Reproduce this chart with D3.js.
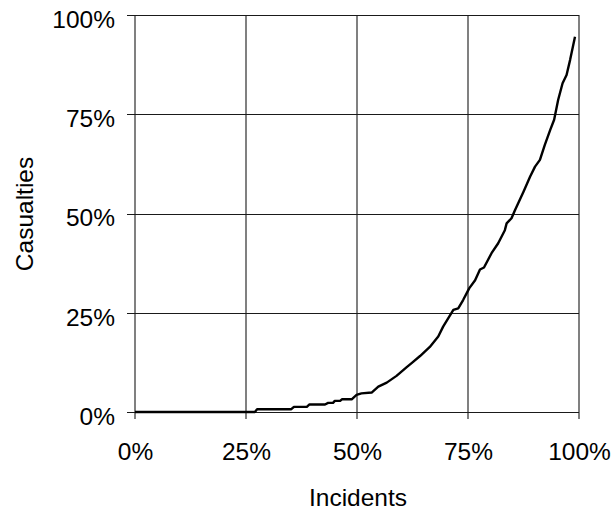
<!DOCTYPE html>
<html>
<head>
<meta charset="utf-8">
<script src="https://cdn.jsdelivr.net/npm/d3@7"></script>
<style>
  html, body { margin: 0; padding: 0; background: #fff; }
  svg { display: block; }
  text { font-family: "Liberation Sans", Arial, sans-serif; fill: #000; }
</style>
</head>
<body>
<svg id="chart" width="615" height="510"></svg>
<script>
// Cumulative share of incidents (%) vs cumulative share of casualties (%)
const incidents = [0, 27.0, 27.5, 35.2, 35.8, 38.7, 39.3, 42.8, 43.5, 44.6, 45.0, 46.2, 46.6, 48.8,
  49.9, 51.0, 53.3, 54.8, 56.7, 58.9, 61.2, 62.3, 64.2, 66.4, 68.3, 69.4, 71.7, 72.8, 73.9,
  75.3, 76.6, 77.7, 78.6, 80.3, 81.8, 83.3, 83.7, 84.8, 85.6, 87.5, 89.0, 90.1, 91.2, 92.3,
  93.5, 94.4, 95.3, 96.3, 97.2, 98.0, 99.1];
const casualties = [0, 0, 0.7, 0.7, 1.3, 1.3, 1.9, 1.9, 2.3, 2.3, 2.8, 2.8, 3.2, 3.2,
  4.3, 4.7, 4.9, 6.4, 7.4, 9.1, 11.3, 12.3, 14.1, 16.4, 19.0, 21.5, 25.7, 26.1, 28.2,
  31.2, 33.2, 35.9, 36.4, 40.0, 42.5, 45.8, 47.5, 48.8, 50.9, 55.5, 59.3, 61.8, 63.5, 67.3,
  71.0, 73.6, 78.6, 82.8, 84.9, 88.7, 94.5];
const xTicks = [0, 25, 50, 75, 100];
const yTicks = [0, 25, 50, 75, 100];
const xTitle = "Incidents";
const yTitle = "Casualties";

const svg = d3.select("#chart");
const x = d3.scaleLinear().domain([0, 100]).range([135, 579]);
const y = d3.scaleLinear().domain([0, 100]).range([412, 15]);
const fmt = d => d + "%";

// vertical gridlines (gray)
svg.append("g").selectAll("line").data(xTicks).join("line")
  .attr("x1", d => x(d)).attr("x2", d => x(d))
  .attr("y1", y(100)).attr("y2", y(0) + 7)
  .attr("stroke", "#808080").attr("stroke-width", 2);

// horizontal gridlines (dark)
svg.append("g").selectAll("line").data(yTicks).join("line")
  .attr("x1", x(0) - 8).attr("x2", x(100))
  .attr("y1", d => Math.round(y(d)) + 0.5).attr("y2", d => Math.round(y(d)) + 0.5)
  .attr("stroke", "#1a1a1a").attr("stroke-width", 1.2);

// x tick labels via axis
const xAxis = svg.append("g").attr("transform", `translate(0,${y(0)})`)
  .call(d3.axisBottom(x).tickValues(xTicks).tickFormat(fmt).tickSize(0));
xAxis.select(".domain").remove();
xAxis.selectAll("text")
  .attr("y", 48).attr("dy", null)
  .style("font-family", '"Liberation Sans", Arial, sans-serif')
  .style("font-size", "24.5px").attr("fill", "#000");

// y tick labels via axis
const yAxis = svg.append("g").attr("transform", `translate(${x(0)},0)`)
  .call(d3.axisLeft(y).tickValues(yTicks).tickFormat(fmt).tickSize(0));
yAxis.select(".domain").remove();
yAxis.selectAll("text")
  .attr("x", -20).attr("dy", "0.5em")
  .style("font-family", '"Liberation Sans", Arial, sans-serif')
  .style("font-size", "24.5px").attr("fill", "#000");

// line
const line = d3.line().x((d, i) => x(incidents[i])).y((d, i) => y(casualties[i]));
svg.append("path").datum(incidents)
  .attr("d", line)
  .attr("fill", "none").attr("stroke", "#000")
  .attr("stroke-width", 2.4).attr("stroke-linejoin", "round");

// axis titles
svg.append("text").attr("x", 358).attr("y", 506)
  .attr("text-anchor", "middle").style("font-size", "24.5px").text(xTitle);
svg.append("text").attr("transform", "translate(33,214) rotate(-90)")
  .attr("text-anchor", "middle").style("font-size", "24.5px").text(yTitle);
</script>
</body>
</html>
